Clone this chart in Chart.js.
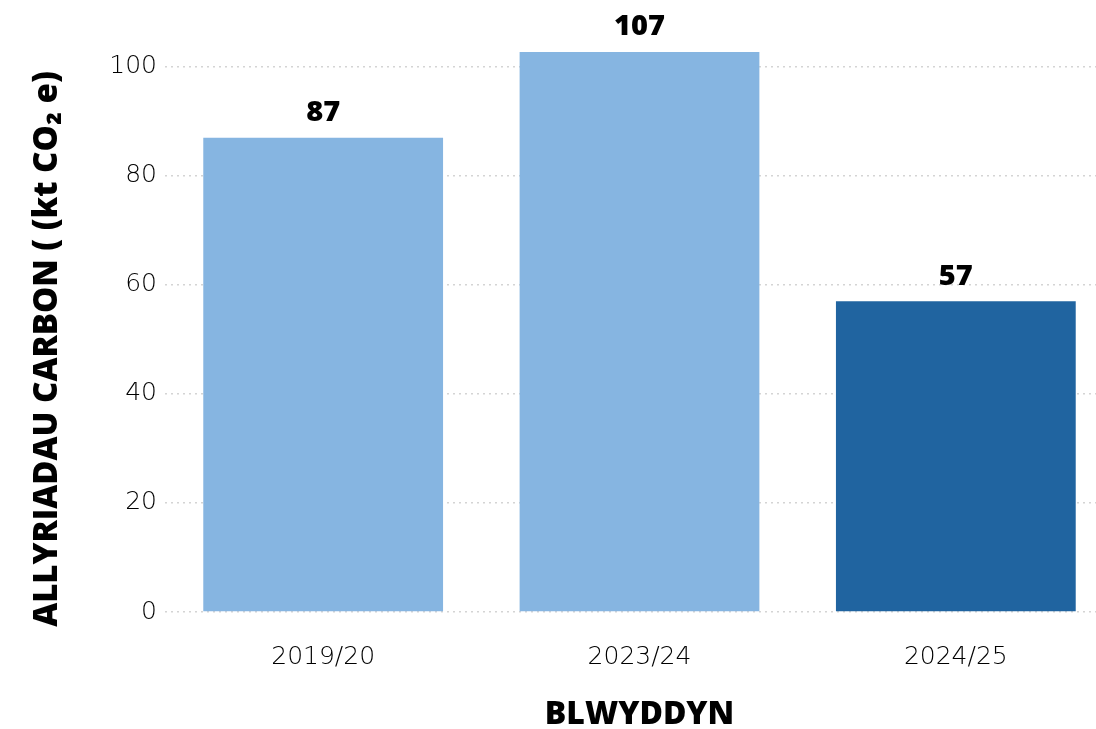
<!DOCTYPE html>
<html>
<head>
<meta charset="utf-8">
<script src="https://cdn.jsdelivr.net/npm/chart.js@4"></script>
<style>
  html, body { margin: 0; padding: 0; background: #fff; overflow: hidden; }
  #wrap { width: 1120px; height: 729px; }
</style>
</head>
<body>
<div id="wrap"><canvas id="chart-allyriadau"></canvas></div>
<script>
// Blynyddoedd a'u hallyriadau (kt CO2e)
const blynyddoedd = ['2019/20', '2023/24', '2024/25'];
const allyriadau = [87, 107, 57];
const lliwiau = ['#86b5e1', '#86b5e1', '#2064a0'];
const ticiauY = [0, 20, 40, 60, 80, 100];
const yMax = 102.75;
const teitlY = 'ALLYRIADAU CARBON ( (kt CO₂ e)';

// Labeli gwerth uwchben pob bar (ar ben yr ardal os yw'r bar wedi'i dorri)
const labeliGwerth = {
    id: 'labeliGwerth',
    afterDatasetsDraw(chart) {
        const { ctx, chartArea } = chart;
        const meta = chart.getDatasetMeta(0);
        ctx.save();
        ctx.font = '800 29px "Open Sans", sans-serif';
        ctx.fillStyle = '#000';
        ctx.textAlign = 'center';
        ctx.textBaseline = 'middle';
        meta.data.forEach((bar, i) => {
            const top = Math.max(bar.y, chartArea.top);
            ctx.fillText(allyriadau[i], bar.x, top - 25);
        });
        ctx.restore();
    }
};

// Teitl yr echelin Y, wedi'i droi
const teitlEchelinY = {
    id: 'teitlEchelinY',
    afterDraw(chart) {
        const { ctx } = chart;
        ctx.save();
        ctx.translate(48, 349);
        ctx.rotate(-Math.PI / 2);
        ctx.font = '800 33px "Open Sans", sans-serif';
        ctx.fillStyle = '#000';
        ctx.textAlign = 'center';
        ctx.textBaseline = 'middle';
        ctx.fillText(teitlY, 0, 0);
        ctx.restore();
    }
};

new Chart(document.getElementById('chart-allyriadau'), {
    type: 'bar',
    data: {
        labels: blynyddoedd,
        datasets: [{
            data: allyriadau,
            backgroundColor: lliwiau,
            borderWidth: 0,
            categoryPercentage: 1,
            barPercentage: 0.758
        }]
    },
    options: {
        responsive: true,
        maintainAspectRatio: false,
        animation: false,
        layout: { padding: { top: 52, right: 6, left: 0, bottom: 0 } },
        plugins: { legend: { display: false }, tooltip: { enabled: false } },
        scales: {
            x: {
                grid: { display: false, drawTicks: false },
                border: { display: false },
                ticks: {
                    color: '#000',
                    font: { family: '"DejaVu Sans", sans-serif', size: 25, weight: '300' },
                    padding: 30
                },
                title: {
                    display: true,
                    text: 'BLWYDDYN',
                    color: '#000',
                    font: { family: '"Open Sans", sans-serif', size: 32, weight: '800' },
                    padding: { top: 0, bottom: -5 }
                },
                afterFit(scale) { scale.height = 117; }
            },
            y: {
                min: 0,
                max: yMax,
                grid: {
                    color: '#d4d4d4',
                    lineWidth: 1.5,
                    drawTicks: false
                },
                // llinellau grid dotiog
                border: { display: false, dash: [2, 4] },
                ticks: {
                    color: '#000',
                    font: { family: '"DejaVu Sans", sans-serif', size: 25, weight: '300' },
                    padding: 8
                },
                afterBuildTicks(scale) {
                    scale.ticks = ticiauY.map(v => ({ value: v }));
                },
                title: { display: false },
                afterFit(scale) { scale.width = 165; }
            }
        }
    },
    plugins: [labeliGwerth, teitlEchelinY]
});
</script>
</body>
</html>
